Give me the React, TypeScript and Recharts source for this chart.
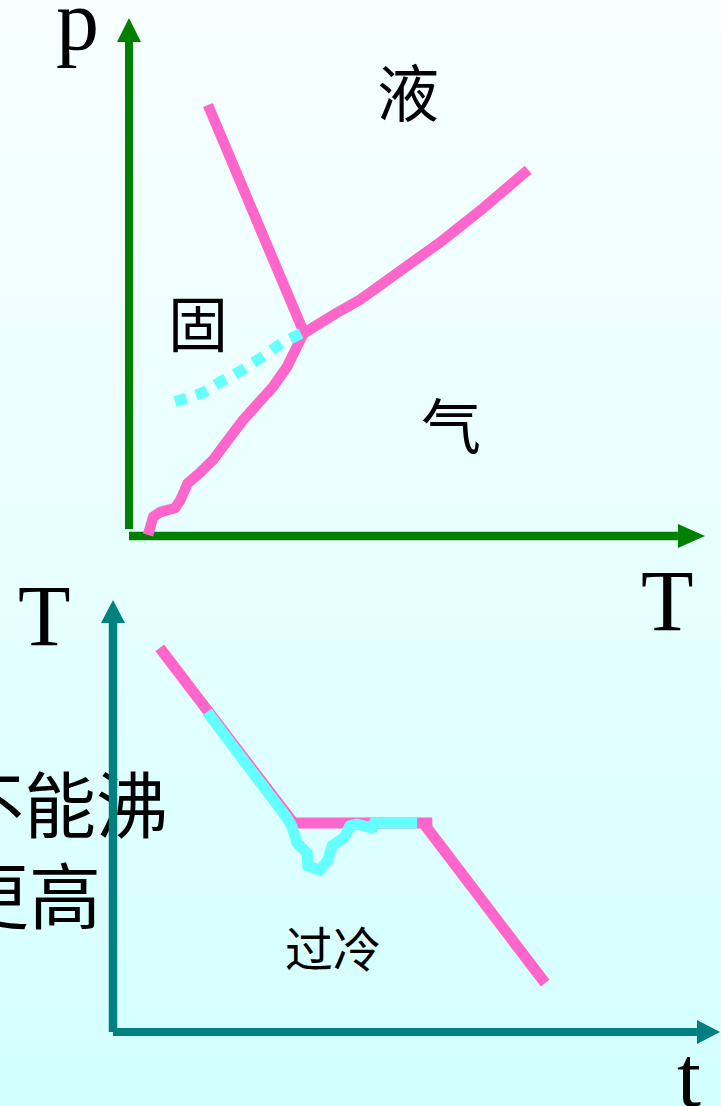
import React from 'react';
import { LineChart, Line, XAxis, YAxis, ReferenceDot } from 'recharts';

// p-T phase diagram (upper panel), values in 0..100 axis units
const meltingCurve = [
  { t: 13.7, p: 83.2 },
  { t: 30.4, p: 39.2 },
];
const boilingCurve = [
  { t: 30.4, p: 39.2 },
  { t: 36.1, p: 43.1 },
  { t: 40.1, p: 45.6 },
  { t: 44.1, p: 48.8 },
  { t: 54.5, p: 57.1 },
  { t: 61.5, p: 63.3 },
  { t: 69.3, p: 70.7 },
];
const sublimationCurve = [
  { t: 3.3, p: 0.2 },
  { t: 4.2, p: 3.7 },
  { t: 5.4, p: 4.6 },
  { t: 8.0, p: 5.4 },
  { t: 8.9, p: 6.9 },
  { t: 10.2, p: 10.2 },
  { t: 12.3, p: 12.2 },
  { t: 14.6, p: 14.7 },
  { t: 18.1, p: 19.9 },
  { t: 19.8, p: 22.4 },
  { t: 25.0, p: 28.8 },
  { t: 27.4, p: 32.6 },
  { t: 29.7, p: 37.8 },
  { t: 30.4, p: 39.2 },
];
const supercooledCurve = [
  { t: 8.0, p: 25.9 },
  { t: 12.7, p: 27.6 },
  { t: 16.1, p: 29.9 },
  { t: 19.6, p: 32.0 },
  { t: 23.3, p: 34.7 },
  { t: 26.6, p: 37.3 },
  { t: 30.4, p: 39.4 },
];
const topYAxis = [
  { t: 0, p: 1.35 },
  { t: 0, p: 95.4 },
];
const topXAxis = [
  { t: 0, p: 0 },
  { t: 95.3, p: 0 },
];

// T-t cooling curve (lower panel)
const coolingCurve = [
  { s: 7.7, T: 88.9 },
  { s: 29.7, T: 48.4 },
  { s: 52.6, T: 48.4 },
];
const solidCooling = [
  { s: 51.1, T: 48.4 },
  { s: 71.2, T: 11.3 },
];
const supercoolCurve = [
  { s: 15.5, T: 74.1 },
  { s: 28.7, T: 49.5 },
  { s: 29.5, T: 47.5 },
  { s: 30.3, T: 43.8 },
  { s: 32.0, T: 41.4 },
  { s: 32.1, T: 38.4 },
  { s: 34.1, T: 37.5 },
  { s: 35.4, T: 39.8 },
  { s: 36.1, T: 43.1 },
  { s: 38.2, T: 45.1 },
  { s: 39.0, T: 47.7 },
  { s: 40.2, T: 48.1 },
  { s: 42.8, T: 47.2 },
  { s: 43.0, T: 48.4 },
  { s: 50.1, T: 48.4 },
];
const bottomYAxis = [
  { s: 0, T: 0 },
  { s: 0, T: 94.7 },
];
const bottomXAxis = [
  { s: 0, T: 0 },
  { s: 96.2, T: 0 },
];

const PINK = '#FF66CC';
const CYAN = '#66FFFF';
const GREEN = '#008000';
const TEAL = '#008080';
const SERIF = '"Liberation Serif", "Times New Roman", serif';
const CJK = '"Noto Sans CJK SC", sans-serif';

const upArrow = (color: string, len: number, half: number) => (props: any) => {
  const { cx, cy } = props;
  return <polygon points={`${cx},${cy} ${cx - half},${cy + len} ${cx + half},${cy + len}`} fill={color} />;
};
const rightArrow = (color: string, len: number, half: number) => (props: any) => {
  const { cx, cy } = props;
  return <polygon points={`${cx},${cy} ${cx - len},${cy - half} ${cx - len},${cy + half}`} fill={color} />;
};

function PhaseDiagram() {
  return (
    <LineChart width={721} height={560} margin={{ top: 18, right: 16, bottom: 24, left: 129 }}>
      <XAxis type="number" dataKey="t" domain={[0, 100]} hide />
      <YAxis type="number" dataKey="p" domain={[0, 100]} hide />
      <Line data={topYAxis} dataKey="p" type="linear" stroke={GREEN} strokeWidth={8} dot={false} activeDot={false} isAnimationActive={false} />
      <Line data={topXAxis} dataKey="p" type="linear" stroke={GREEN} strokeWidth={8.5} dot={false} activeDot={false} isAnimationActive={false} />
      <ReferenceDot x={0} y={100} r={1} ifOverflow="visible" shape={upArrow(GREEN, 24, 12)} />
      <ReferenceDot x={100} y={0} r={1} ifOverflow="visible" shape={rightArrow(GREEN, 27, 12)} />
      <Line data={meltingCurve} dataKey="p" type="linear" stroke={PINK} strokeWidth={10.5} dot={false} activeDot={false} isAnimationActive={false} />
      <Line data={boilingCurve} dataKey="p" type="linear" stroke={PINK} strokeWidth={10.5} strokeLinejoin="round" dot={false} activeDot={false} isAnimationActive={false} />
      <Line data={sublimationCurve} dataKey="p" type="linear" stroke={PINK} strokeWidth={10.5} strokeLinejoin="round" dot={false} activeDot={false} isAnimationActive={false} />
      <Line data={supercooledCurve} dataKey="p" type="linear" stroke={CYAN} strokeWidth={11} strokeDasharray="12 10" dot={false} activeDot={false} isAnimationActive={false} />
    </LineChart>
  );
}

function CoolingCurve() {
  return (
    <LineChart width={721} height={546} margin={{ top: 40, right: 1, bottom: 74, left: 113 }}>
      <XAxis type="number" dataKey="s" domain={[0, 100]} hide />
      <YAxis type="number" dataKey="T" domain={[0, 100]} hide />
      <Line data={bottomYAxis} dataKey="T" type="linear" stroke={TEAL} strokeWidth={8.5} dot={false} activeDot={false} isAnimationActive={false} />
      <Line data={bottomXAxis} dataKey="T" type="linear" stroke={TEAL} strokeWidth={8} dot={false} activeDot={false} isAnimationActive={false} />
      <ReferenceDot x={0} y={100} r={1} ifOverflow="visible" shape={upArrow(TEAL, 23, 12)} />
      <ReferenceDot x={100} y={0} r={1} ifOverflow="visible" shape={rightArrow(TEAL, 23, 12)} />
      <Line data={coolingCurve} dataKey="T" type="linear" stroke={PINK} strokeWidth={11} dot={false} activeDot={false} isAnimationActive={false} />
      <Line data={solidCooling} dataKey="T" type="linear" stroke={PINK} strokeWidth={11} dot={false} activeDot={false} isAnimationActive={false} />
      <Line data={supercoolCurve} dataKey="T" type="linear" stroke={CYAN} strokeWidth={11} strokeLinejoin="round" dot={false} activeDot={false} isAnimationActive={false} />
    </LineChart>
  );
}

export default function App() {
  return (
    <div
      style={{
        position: 'absolute',
        left: 0,
        top: 0,
        width: 721,
        height: 1106,
        overflow: 'hidden',
        background: 'linear-gradient(to bottom, #F8FFFF 0%, #E8FFFF 50%, #D3FFFF 100%)',
      }}
    >
      <svg width={721} height={1106} style={{ position: 'absolute', left: 0, top: 0 }}>
        <text x={56} y={49} fontFamily={SERIF} fontSize={86} fill="#000">p</text>
        <text x={641} y={630} fontFamily={SERIF} fontSize={86} fill="#000">T</text>
        <text x={18} y={645} fontFamily={SERIF} fontSize={86} fill="#000">T</text>
        <text x={677} y={1106} fontFamily={SERIF} fontSize={86} fill="#000">t</text>
        <text x={377} y={117} fontFamily={CJK} fontSize={62} fill="#000">液</text>
        <text x={168} y={347} fontFamily={CJK} fontSize={60} fill="#000">固</text>
        <text x={421} y={449} fontFamily={CJK} fontSize={60} fill="#000">气</text>
        <text x={285} y={967} fontFamily={CJK} fontSize={48} fill="#000">过冷</text>
        <text x={-48} y={832} fontFamily={CJK} fontSize={72} fill="#000">不能沸</text>
        <text x={-43} y={923} fontFamily={CJK} fontSize={72} fill="#000">更高</text>
      </svg>
      <div style={{ position: 'absolute', left: 0, top: 0 }}>
        <PhaseDiagram />
      </div>
      <div style={{ position: 'absolute', left: 0, top: 560 }}>
        <CoolingCurve />
      </div>
    </div>
  );
}
